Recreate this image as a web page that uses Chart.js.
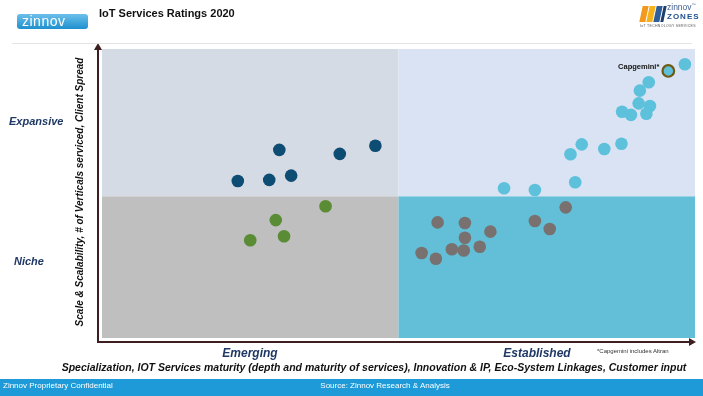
<!DOCTYPE html>
<html>
<head>
<meta charset="utf-8">
<script src="https://cdn.jsdelivr.net/npm/chart.js@4"></script>
<style>
  html, body { margin: 0; padding: 0; background: #fff; }
  #wrap { position: relative; width: 703px; height: 396px; overflow: hidden; font-family: "Liberation Sans", Arial, sans-serif; }
  #c { position: absolute; left: 0; top: 0; }
  .t { position: absolute; white-space: nowrap; }
</style>
</head>
<body>
<div id="wrap">
  <canvas id="c" width="703" height="396"></canvas>

  <!-- header -->
  <div class="t" style="left:17px;top:14px;width:71px;height:15px;border-radius:3px;background:linear-gradient(180deg,#6CC0EA,#1E90CF);"></div>
  <div class="t" style="left:22px;top:12.5px;font-size:14px;color:#fff;letter-spacing:0.5px;">zinnov</div>
  <div class="t" style="left:99px;top:7px;font-size:11px;font-weight:bold;color:#111;">IoT Services Ratings 2020</div>
  <div class="t" style="left:12px;top:43px;width:680px;height:1px;background:#E4E4E4;"></div>

  <div class="t" style="left:641px;top:6px;width:6px;height:16px;background:#F39A1E;transform:skewX(-12deg);"></div>
  <div class="t" style="left:648px;top:6px;width:6px;height:16px;background:#F6B21A;transform:skewX(-12deg);"></div>
  <div class="t" style="left:655px;top:6px;width:6px;height:16px;background:#2E5F9A;transform:skewX(-12deg);"></div>
  <div class="t" style="left:662px;top:6px;width:3px;height:16px;background:#1D3F6E;transform:skewX(-12deg);"></div>
  <div class="t" style="left:667px;top:2px;font-size:8.5px;color:#3F5F8F;">zinnov<sup style="font-size:4px">™</sup></div>
  <div class="t" style="left:667px;top:12px;font-size:8px;font-weight:bold;color:#1F4F8F;letter-spacing:1px;">ZONES</div>
  <div class="t" style="left:640px;top:24px;font-size:3.5px;color:#555;letter-spacing:0.3px;">IoT TECHNOLOGY SERVICES</div>

  <!-- y-axis labels -->
  <div class="t" style="left:9px;top:115px;font-size:11px;font-weight:bold;font-style:italic;color:#1F3864;">Expansive</div>
  <div class="t" style="left:14px;top:255px;font-size:11px;font-weight:bold;font-style:italic;color:#1F3864;">Niche</div>
  <div class="t" style="left:79px;top:192px;font-size:10px;font-weight:bold;font-style:italic;color:#111;transform:translate(-50%,-50%) rotate(-90deg);">Scale &amp; Scalability, # of Verticals serviced, Client Spread</div>

  <!-- x-axis labels -->
  <div class="t" style="left:250px;top:346px;font-size:12px;font-weight:bold;font-style:italic;color:#1F3864;transform:translateX(-50%);">Emerging</div>
  <div class="t" style="left:537px;top:346px;font-size:12px;font-weight:bold;font-style:italic;color:#1F3864;transform:translateX(-50%);">Established</div>
  <div class="t" style="left:597px;top:348px;font-size:6px;color:#333;">*Capgemini includes Altran</div>
  <div class="t" style="left:374px;top:361px;font-size:10.5px;font-weight:bold;font-style:italic;color:#111;transform:translateX(-50%);">Specialization, IOT Services maturity (depth and maturity of services), Innovation &amp; IP, Eco-System Linkages, Customer input</div>

  <!-- footer -->
  <div class="t" style="left:0;top:379px;width:703px;height:17px;background:#1E9AD8;"></div>
  <div class="t" style="left:3px;top:381px;font-size:8px;color:#fff;">Zinnov Proprietary Confidential</div>
  <div class="t" style="left:385px;top:381px;font-size:8px;color:#fff;transform:translateX(-50%);">Source: Zinnov Research &amp; Analysis</div>
</div>

<script>
// ---- data (x: Specialization / maturity score, y: Scale & Scalability score, 0-100) ----
const xSplit = 50;
const ySplit = 49;

const expansiveEmergingX = [22.9, 28.2, 29.9, 31.9, 40.1, 46.1];
const expansiveEmergingY = [54.3, 54.7, 65.1, 56.2, 63.7, 66.5];

const nicheEmergingX = [37.7, 29.3, 30.7, 25.0];
const nicheEmergingY = [45.6, 40.8, 35.2, 33.8];

const nicheEstablishedX = [56.6, 61.2, 61.2, 65.5, 63.7, 61.0, 59.0, 53.9, 56.3, 73.0, 75.5, 78.2];
const nicheEstablishedY = [40.0, 39.8, 34.7, 36.8, 31.6, 30.3, 30.7, 29.4, 27.4, 40.5, 37.7, 45.2];

const expansiveEstablishedX = [98.3, 92.2, 90.7, 90.5, 92.4, 87.7, 89.2, 91.8, 80.9, 79.0, 84.7, 87.6, 67.8, 73.0, 79.8];
const expansiveEstablishedY = [94.7, 88.5, 85.6, 81.2, 80.3, 78.3, 77.2, 77.6, 67.0, 63.6, 65.4, 67.2, 51.8, 51.2, 53.9];

const highlightLabel = "Capgemini*";
const highlightX = [95.5];
const highlightY = [92.4];

function pts(xs, ys) { return xs.map((x, i) => ({ x: x, y: ys[i] })); }

const quadrantPlugin = {
  id: 'quadrants',
  beforeDatasetsDraw(chart) {
    const { ctx, chartArea: a, scales: { x, y } } = chart;
    const mx = x.getPixelForValue(xSplit);
    const my = y.getPixelForValue(ySplit);
    ctx.save();
    ctx.fillStyle = '#D5DBE4'; ctx.fillRect(a.left, a.top, mx - a.left, my - a.top);
    ctx.fillStyle = '#DAE3F3'; ctx.fillRect(mx, a.top, a.right - mx, my - a.top);
    ctx.fillStyle = '#BFBFBF'; ctx.fillRect(a.left, my, mx - a.left, a.bottom - my);
    ctx.fillStyle = '#62BFD7'; ctx.fillRect(mx, my, a.right - mx, a.bottom - my);
    // axes arrows
    const ax = a.left - 4, ay = a.bottom + 4;
    ctx.strokeStyle = '#3E1F1F'; ctx.fillStyle = '#3E1F1F'; ctx.lineWidth = 2;
    ctx.beginPath(); ctx.moveTo(ax, ay); ctx.lineTo(ax, a.top - 1); ctx.stroke();
    ctx.beginPath(); ctx.moveTo(ax - 4, a.top + 1); ctx.lineTo(ax + 4, a.top + 1); ctx.lineTo(ax, a.top - 6); ctx.closePath(); ctx.fill();
    ctx.beginPath(); ctx.moveTo(ax - 1, ay); ctx.lineTo(a.right - 4, ay); ctx.stroke();
    ctx.beginPath(); ctx.moveTo(a.right - 6, ay - 4); ctx.lineTo(a.right - 6, ay + 4); ctx.lineTo(a.right + 1, ay); ctx.closePath(); ctx.fill();
    ctx.restore();
  },
  afterDatasetsDraw(chart) {
    const { ctx, scales: { x, y } } = chart;
    ctx.save();
    ctx.font = 'bold 7.5px "Liberation Sans", Arial, sans-serif';
    ctx.fillStyle = '#111';
    ctx.textAlign = 'right';
    ctx.textBaseline = 'middle';
    ctx.fillText(highlightLabel, x.getPixelForValue(highlightX[0]) - 9, y.getPixelForValue(highlightY[0]) - 4);
    ctx.restore();
  }
};

new Chart(document.getElementById('c'), {
  type: 'scatter',
  data: {
    datasets: [
      { data: pts(expansiveEmergingX, expansiveEmergingY), backgroundColor: '#0D4C73', borderWidth: 0, pointRadius: 6.3 },
      { data: pts(nicheEmergingX, nicheEmergingY), backgroundColor: '#5A8C35', borderWidth: 0, pointRadius: 6.3 },
      { data: pts(nicheEstablishedX, nicheEstablishedY), backgroundColor: '#787170', borderWidth: 0, pointRadius: 6.3 },
      { data: pts(expansiveEstablishedX, expansiveEstablishedY), backgroundColor: '#5EC1DC', borderWidth: 0, pointRadius: 6.3 },
      { data: pts(highlightX, highlightY), backgroundColor: '#5EC1DC', borderColor: '#6E5A12', borderWidth: 2.2, pointRadius: 5.8 }
    ]
  },
  options: {
    responsive: false,
    animation: false,
    events: [],
    layout: { padding: { left: 102, right: 6, top: 49, bottom: 58 } },
    scales: {
      x: { display: false, min: 0, max: 100 },
      y: { display: false, min: 0, max: 100 }
    },
    plugins: { legend: { display: false }, tooltip: { enabled: false } }
  },
  plugins: [quadrantPlugin]
});
</script>
</body>
</html>
